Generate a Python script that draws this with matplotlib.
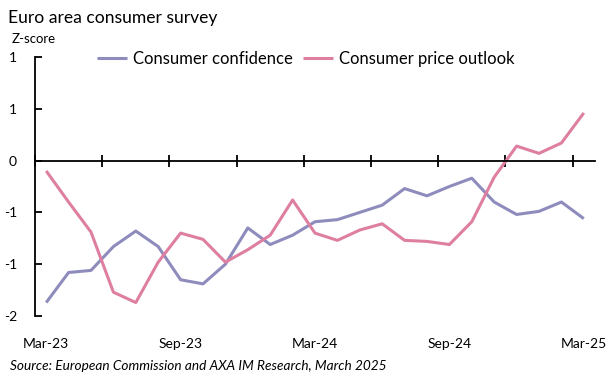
import math
import matplotlib
matplotlib.use("Agg")
import matplotlib.pyplot as plt
from matplotlib.ticker import FixedLocator, FuncFormatter

plt.rcParams['font.family'] = ['Lato', 'DejaVu Sans']

months = ["Mar-23", "Apr-23", "May-23", "Jun-23", "Jul-23", "Aug-23", "Sep-23",
          "Oct-23", "Nov-23", "Dec-23", "Jan-24", "Feb-24", "Mar-24", "Apr-24",
          "May-24", "Jun-24", "Jul-24", "Aug-24", "Sep-24", "Oct-24", "Nov-24",
          "Dec-24", "Jan-25", "Feb-25", "Mar-25"]
confidence = [-1.37, -1.08, -1.06, -0.83, -0.68, -0.83, -1.15, -1.19, -1.00,
              -0.65, -0.81, -0.72, -0.59, -0.57, -0.50, -0.43, -0.27, -0.34,
              -0.25, -0.17, -0.40, -0.52, -0.49, -0.40, -0.56]
price_outlook = [-0.10, -0.40, -0.69, -1.27, -1.37, -0.98, -0.70, -0.76, -0.98,
                 -0.86, -0.72, -0.38, -0.70, -0.77, -0.67, -0.61, -0.77, -0.78,
                 -0.81, -0.59, -0.16, 0.14, 0.07, 0.17, 0.46]
x_labels = ["Mar-23", "Sep-23", "Mar-24", "Sep-24", "Mar-25"]
y_ticks = [-1.5, -1.0, -0.5, 0.0, 0.5, 1.0]

c_conf = "#8e8cbc"
c_price = "#de7fa1"

fig = plt.figure(figsize=(6.14, 3.79), dpi=100)
ax = fig.add_axes([35/614, 1-316/379, 560/614, 259/379])

x = list(range(len(months)))
ax.plot(x, confidence, color=c_conf, lw=2.2, label="Consumer confidence", solid_capstyle='butt')
ax.plot(x, price_outlook, color=c_price, lw=2.2, label="Consumer price outlook", solid_capstyle='butt')

ax.set_xlim(-0.5, len(months) - 0.5)
ax.set_ylim(-1.5, 1.0)

for s in ["top", "right"]:
    ax.spines[s].set_visible(False)
ax.spines["left"].set_color("black")
ax.spines["left"].set_linewidth(1.3)
ax.spines["bottom"].set_position(("data", 0))
ax.spines["bottom"].set_linewidth(1.3)

# category boundary ticks every 3 months
boundaries = [i - 0.5 for i in range(0, len(months) + 1, 3)]
ax.xaxis.set_major_locator(FixedLocator(boundaries))
ax.tick_params(axis="x", direction="inout", length=8, width=1.3, labelbottom=False)

def excel_round(v, pos):
    r = int(math.floor(abs(v) + 0.5 + 1e-9))
    r = -r if v < 0 else r
    return str(r)

ax.yaxis.set_major_locator(FixedLocator(y_ticks))
ax.yaxis.set_major_formatter(FuncFormatter(excel_round))
ax.tick_params(axis="y", direction="in", length=5, width=1.3, pad=13, labelsize=10)

sec = ax.secondary_xaxis("bottom")
sec.set_xticks([months.index(m) for m in x_labels])
sec.set_xticklabels(x_labels)
sec.spines["bottom"].set_visible(False)
sec.tick_params(length=0, pad=16, labelsize=10)

fig.legend(loc="center", bbox_to_anchor=(306/614, 1-59/379), ncol=2, frameon=False,
           fontsize=12, handlelength=1.8, handletextpad=0.35, columnspacing=0.6)

fig.text(8/614, 1-18/379, "Euro area consumer survey", fontsize=12.6, va="center", ha="left")
fig.text(12/614, 1-39/379, "Z-score", fontsize=9.5, va="center", ha="left")
fig.text(10/614, 1-366/379, "Source: European Commission and AXA IM Research, March 2025",
         fontsize=9.8, style="italic", va="center", ha="left")

fig.savefig("out.png", dpi=100)
